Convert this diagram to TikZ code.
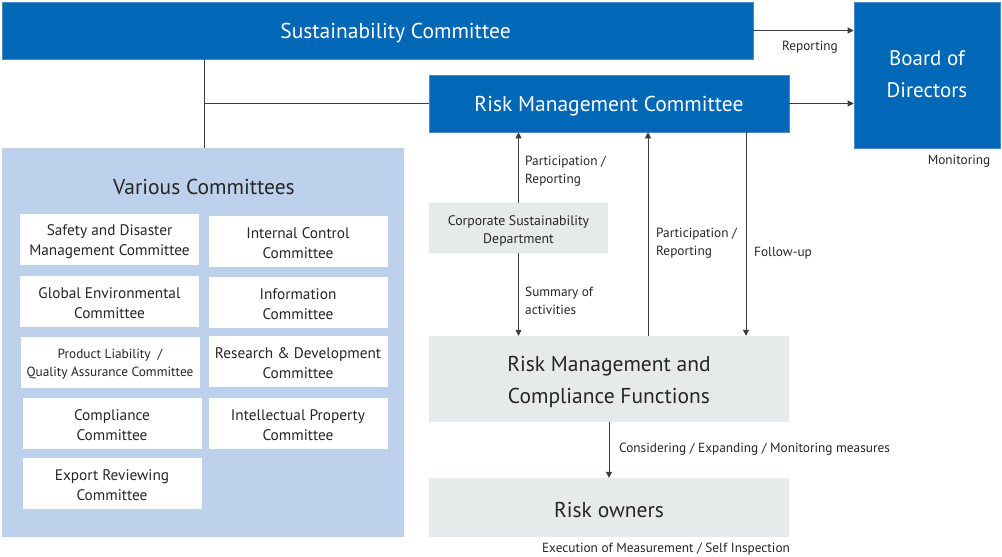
\documentclass[tikz,border=0pt]{standalone}
\usepackage{fontspec}
\setmainfont{PT Sans}
\usetikzlibrary{arrows.meta,calc}
\definecolor{cblue}{RGB}{0,104,183}
\definecolor{cedge}{RGB}{70,140,205}
\definecolor{clight}{RGB}{190,209,236}
\definecolor{cgray}{RGB}{231,234,235}
\definecolor{cline}{RGB}{60,60,60}
\begin{document}
\begin{tikzpicture}[x=1pt,y=-1pt,
  bluebox/.style={fill=cblue, draw=cedge, line width=0.6pt, inner sep=0pt},
  graybox/.style={fill=cgray, draw=none, inner sep=0pt},
  cbox/.style={fill=white, draw=none, inner sep=0pt, minimum width=179pt, minimum height=51pt},
  wtxt/.style={text=white, align=center, inner sep=0pt, font=\fontsize{21.5}{32}\selectfont},
  btxt/.style={text=black!85, align=center, inner sep=0pt, font=\fontsize{21.5}{32}\selectfont},
  ctxt/.style={text=black!85, align=center, inner sep=0pt, font=\fontsize{15.3}{20}\selectfont},
  lbl/.style={anchor=west, align=left, inner sep=0pt, text=black!85, font=\fontsize{13.3}{18}\selectfont},
  conn/.style={draw=cline, line width=1pt},
  arr/.style={conn, -{Triangle[length=6pt,width=6pt]}}
]
\useasboundingbox (0,0) rectangle (1002,557);

% main boxes
\node[bluebox, minimum width=751pt, minimum height=57pt] (sc) at (377.5,30.5) {};
\node[wtxt] (sct) at ($(sc.center)+(18,2.5)$) {Sustainability Committee};
\node[bluebox, minimum width=146pt, minimum height=146pt] (bod) at (927,75) {};
\node[wtxt, font=\fontsize{21}{32}\selectfont] (bodt) at ($(bod.center)+(0,-1)$) {Board of\\Directors};
\node[bluebox, minimum width=360pt, minimum height=57pt] (rmc) at (609,103.5) {};
\node[wtxt] (rmct) at ($(rmc.center)+(0,2.5)$) {Risk Management Committee};

% various committees
\node[fill=clight, draw=none, minimum width=402pt, minimum height=389pt, inner sep=0pt] (vc) at (203,342.5) {};
\node[btxt] (vct) at (204,187) {Various Committees};
\node[cbox] (c1) at (109.5,239.5) {};
\node[ctxt] (c1t) at ($(c1.center)+(0,2)$) {Safety and Disaster\\Management Committee};
\node[cbox] (c2) at (298,241) {};
\node[ctxt] (c2t) at ($(c2.center)+(0,2)$) {Internal Control\\Committee};
\node[cbox] (c3) at (109.5,301) {};
\node[ctxt] (c3t) at ($(c3.center)+(0,2)$) {Global Environmental\\Committee};
\node[cbox] (c4) at (298,302.5) {};
\node[ctxt] (c4t) at ($(c4.center)+(0,2)$) {Information\\Committee};
\node[cbox] (c5) at (110,362.5) {};
\node[ctxt, font=\fontsize{13.3}{18}\selectfont] (c5t) at ($(c5.center)+(0,2)$) {Product Liability~~/\\Quality Assurance Committee};
\node[cbox] (c6) at (298,361.5) {};
\node[ctxt] (c6t) at ($(c6.center)+(0,2)$) {Research \& Development\\Committee};
\node[cbox] (c7) at (112,423.5) {};
\node[ctxt] (c7t) at ($(c7.center)+(0,2)$) {Compliance\\Committee};
\node[cbox] (c8) at (298,423.5) {};
\node[ctxt] (c8t) at ($(c8.center)+(0,2)$) {Intellectual Property\\Committee};
\node[cbox] (c9) at (112,483.5) {};
\node[ctxt] (c9t) at ($(c9.center)+(0,2)$) {Export Reviewing\\Committee};

% gray boxes
\node[graybox, minimum width=179pt, minimum height=50pt] (csd) at (518.5,228) {};
\node[btxt, font=\fontsize{13.8}{18}\selectfont] (csdt) at ($(csd.center)+(0,2.5)$) {Corporate Sustainability\\Department};
\node[graybox, minimum width=360pt, minimum height=86pt] (rmcf) at (609,379) {};
\node[btxt] (rmcft) at ($(rmcf.center)+(0,3)$) {Risk Management and\\Compliance Functions};
\node[graybox, minimum width=360pt, minimum height=59pt] (ro) at (609,507.5) {};
\node[btxt] (rot) at ($(ro.center)+(0,2.5)$) {Risk owners};

% connectors
\draw[arr] (sc.east) -- (sc.east -| bod.west);
\draw[arr] (rmc.east) -- (rmc.east -| bod.west);
\draw[conn] (vc.north -| 204,0) |- (sc.south -| 204,0);
\coordinate (j) at (vc.north |- rmc.west);
\draw[conn] ([xshift=1pt]j) -- (rmc.west);
\draw[arr] (csd.north) -- (csd.north |- rmc.south);
\draw[arr] (csd.south) -- (csd.south |- rmcf.north);
\coordinate (up) at ([xshift=39pt]rmcf.north);
\draw[arr] (up) -- (up |- rmc.south);
\coordinate (fu) at ([xshift=137pt]rmc.south);
\draw[arr] (fu) -- (fu |- rmcf.north);
\draw[arr] (rmcf.south) -- (ro.north);

% labels
\node[lbl, anchor=center] (lrep) at (810,47.5) {Reporting};
\node[lbl, anchor=center] (lmon) at (959,161.5) {Monitoring};
\node[lbl] (lpr1) at (525,171) {Participation /\\Reporting};
\node[lbl] (lsum) at (525,301) {Summary of\\activities};
\node[lbl] (lpr2) at (656,243) {Participation /\\Reporting};
\node[lbl] (lfu) at (754,253.5) {Follow-up};
\node[lbl] (lcon) at (619,449.5) {Considering / Expanding / Monitoring measures};
\node[lbl, anchor=center] (lexe) at (666,549) {Execution of Measurement / Self Inspection};
\end{tikzpicture}
\end{document}
